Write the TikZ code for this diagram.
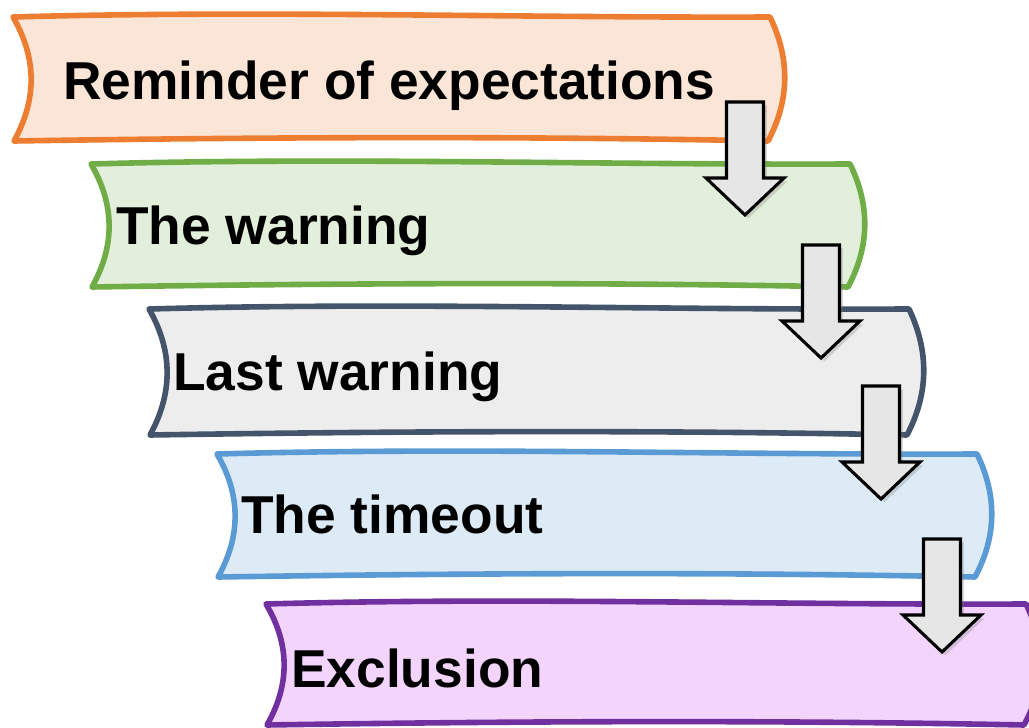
\documentclass[tikz,border=0pt]{standalone}
\usepackage{fontspec}
\setmainfont{Liberation Sans}
\usetikzlibrary{shadows}
\definecolor{c1s}{HTML}{ED7D31}\definecolor{c1f}{HTML}{FBE5D6}
\definecolor{c2s}{HTML}{70AD47}\definecolor{c2f}{HTML}{E2EFDA}
\definecolor{c3s}{HTML}{44546A}\definecolor{c3f}{HTML}{EDEDED}
\definecolor{c4s}{HTML}{5B9BD5}\definecolor{c4f}{HTML}{DDEBF7}
\definecolor{c5s}{HTML}{7030A0}\definecolor{c5f}{HTML}{F2D4FD}
\definecolor{arrowfill}{HTML}{E6E6E6}
\tikzset{
  bannerstyle/.style={line width=4.2pt, line join=round},
  arrowstyle/.style={line width=2.3pt, draw=black, fill=arrowfill, line join=miter,
    drop shadow={opacity=0.3, shadow xshift=2.5pt, shadow yshift=-2.5pt}},
  labelstyle/.style={anchor=base west, inner sep=0pt, font=\bfseries\fontsize{40}{48}\selectfont, text=black}
}
% #1 stroke, #2 fill, #3 xl, #4 xr, #5 yt, #6 yb
\newcommand\bannerpath[6]{%
  \pgfmathsetmacro\bW{#4-#3}\pgfmathsetmacro\bH{#6-#5}%
  \draw[bannerstyle, draw=#1, fill=#2] (#3,#5)
    .. controls ({#3+0.33*\bW},{#5-7}) and ({#3+0.66*\bW},{#5+1}) .. (#4,#5)
    .. controls ({#4+20},{#5+\bH/3}) and ({#4+20},{#5+2*\bH/3}) .. ({#4-2},#6)
    .. controls ({#4-0.33*\bW},{#6-5}) and ({#4-0.66*\bW},{#6-4}) .. ({#3+1},#6)
    .. controls ({#3+24},{#6-\bH/3}) and ({#3+24},{#5+\bH/3}) .. cycle;}
% #1 cx, #2 top
\newcommand\blockarrow[2]{%
  \path[arrowstyle] ({#1-18.5},#2) -- ({#1+18.5},#2) -- ({#1+18.5},{#2+76})
    -- ({#1+39},{#2+76}) -- (#1,{#2+113}) -- ({#1-39},{#2+76}) -- ({#1-18.5},{#2+76}) -- cycle;}
\begin{document}
\begin{tikzpicture}[x=0.75pt,y=-0.75pt]
\useasboundingbox (0,0) rectangle (1029,728);
\clip (0,0) rectangle (1029,728);
\bannerpath{c1s}{c1f}{13}{770}{17}{141}
\bannerpath{c2s}{c2f}{91}{850}{164}{287}
\bannerpath{c3s}{c3f}{149}{909}{309}{435}
\bannerpath{c4s}{c4f}{217}{977}{454}{577}
\bannerpath{c5s}{c5f}{266}{1026}{604}{725}
\node[labelstyle] (t1) at (63,99) {Reminder of expectations};
\node[labelstyle] (t2) at (116,244) {The warning};
\node[labelstyle] (t3) at (173,390) {Last warning};
\node[labelstyle] (t4) at (241,533) {The timeout};
\node[labelstyle] (t5) at (291,687) {Exclusion};
\blockarrow{745}{102}
\blockarrow{821}{245}
\blockarrow{881}{386}
\blockarrow{942}{539}
\end{tikzpicture}
\end{document}
